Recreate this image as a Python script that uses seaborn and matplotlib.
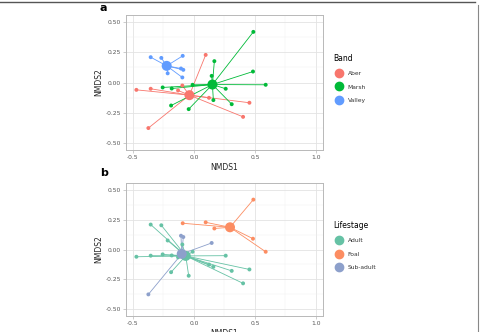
import numpy as np
import pandas as pd
import seaborn as sns
import matplotlib.pyplot as plt
from matplotlib.lines import Line2D

# sample scores
nmds1 = [-0.470, -0.353, -0.372, -0.129, -0.094, 0.097, 0.124, 0.455, 0.403,
         0.487, 0.484, 0.588, 0.168, 0.146, 0.261, 0.310, 0.160, -0.042, -0.186, -0.255, -0.181, -0.010,
         -0.353, -0.266, -0.091, -0.105, -0.086, -0.094, -0.214]
nmds2 = [-0.061, -0.052, -0.378, -0.066, -0.025, 0.229, -0.127, -0.168, -0.285,
         0.420, 0.091, -0.019, 0.177, 0.055, -0.052, -0.180, -0.146, -0.221, -0.191, -0.041, -0.050, -0.019,
         0.210, 0.204, 0.221, 0.116, 0.105, 0.042, 0.076]
band = ["Aber"] * 9 + ["Marsh"] * 13 + ["Valley"] * 7
lifestage = ["Adult", "Adult", "Sub-adult", "Adult", "Adult", "Foal", "Adult", "Adult", "Adult",
             "Foal", "Foal", "Foal", "Foal", "Sub-adult", "Adult", "Adult", "Adult", "Adult", "Adult", "Adult", "Adult", "Adult",
             "Adult", "Adult", "Foal", "Sub-adult", "Sub-adult", "Adult", "Adult"]

band_levels = ["Aber", "Marsh", "Valley"]
band_cx = [-0.036, 0.152, -0.222]
band_cy = [-0.105, -0.017, 0.138]
life_levels = ["Adult", "Foal", "Sub-adult"]
life_cx = [-0.066, 0.296, -0.099]
life_cy = [-0.054, 0.187, -0.037]

band_pal = dict(zip(band_levels, ["#F8766D", "#00BA38", "#619CFF"]))
life_pal = dict(zip(life_levels, ["#66C2A5", "#FC8D62", "#8DA0CB"]))

df = pd.DataFrame({"NMDS1": nmds1, "NMDS2": nmds2, "Band": band, "Lifestage": lifestage})

fig = plt.figure(figsize=(4.8, 3.32), dpi=100)
ax_a = fig.add_axes([126 / 480, 1 - 150 / 332, 197 / 480, 135 / 332])
ax_b = fig.add_axes([126 / 480, 1 - 316 / 332, 197 / 480, 133 / 332])


def spider(ax, group, levels, cx, cy, pal):
    cen = pd.DataFrame({group: levels, "NMDS1": cx, "NMDS2": cy})
    # segment table: each sample joined to its group centroid
    m = df.merge(cen, on=group, suffixes=("", "_c"))
    m["seg"] = range(len(m))
    seg = pd.concat([
        m[["seg", group, "NMDS1", "NMDS2"]],
        m[["seg", group, "NMDS1_c", "NMDS2_c"]].rename(columns={"NMDS1_c": "NMDS1", "NMDS2_c": "NMDS2"}),
    ])
    sns.lineplot(data=seg, x="NMDS1", y="NMDS2", hue=group, units="seg", estimator=None,
                 sort=False, palette=pal, hue_order=levels, lw=0.6, legend=False, ax=ax, zorder=2)
    sns.scatterplot(data=df, x="NMDS1", y="NMDS2", hue=group, palette=pal, hue_order=levels,
                    s=8, linewidth=0, legend=False, ax=ax, zorder=3)
    sns.scatterplot(data=cen, x="NMDS1", y="NMDS2", hue=group, palette=pal, hue_order=levels,
                    s=52, linewidth=0, legend=False, ax=ax, zorder=4)

    ax.set_xlim(-0.555, 1.057)
    ax.set_ylim(-0.56, 0.56)
    ax.set_xticks([-0.5, 0.0, 0.5, 1.0])
    ax.set_xticklabels(["-0.5", "0.0", "0.5", "1.0"])
    ax.set_yticks([-0.5, -0.25, 0.0, 0.25, 0.5])
    ax.set_yticklabels(["-0.50", "-0.25", "0.00", "0.25", "0.50"])
    ax.set_xticks([-0.25, 0.25, 0.75], minor=True)
    ax.set_yticks([-0.375, -0.125, 0.125, 0.375], minor=True)
    ax.grid(which="major", color="#e3e3e3", lw=0.6)
    ax.grid(which="minor", color="#efefef", lw=0.35)
    ax.set_axisbelow(True)
    for s in ax.spines.values():
        s.set_color("#b8b8b8")
        s.set_linewidth(0.7)
    ax.tick_params(which="major", length=2, width=0.5, color="#b8b8b8", labelsize=4.3,
                   labelcolor="#555555", pad=1.5)
    ax.tick_params(which="minor", length=0)
    ax.set_xlabel("NMDS1", fontsize=5.5, color="#222222", labelpad=2)
    ax.set_ylabel("NMDS2", fontsize=5.5, color="#222222", labelpad=2)

    handles = [Line2D([], [], marker="o", ls="", color=pal[l], markersize=6) for l in levels]
    leg = ax.legend(handles, levels, title=group, loc="center left", bbox_to_anchor=(1.04, 0.53),
                    frameon=False, fontsize=4.3, title_fontsize=5.5, handletextpad=0.4,
                    labelspacing=1.35, borderaxespad=0)
    leg._legend_box.align = "left"
    for t in leg.get_texts():
        t.set_color("#333333")


spider(ax_a, "Band", band_levels, band_cx, band_cy, band_pal)
spider(ax_b, "Lifestage", life_levels, life_cx, life_cy, life_pal)

fig.text(100 / 480, 1 - 8 / 332, "a", fontsize=8, fontweight="bold", va="center")
fig.text(100 / 480, 1 - 173 / 332, "b", fontsize=8, fontweight="bold", va="center")

# outer frame (top and right edges)
fig.add_artist(Line2D([0, 0.99], [0.995, 0.995], transform=fig.transFigure, color="#555555", lw=1))
fig.add_artist(Line2D([0.996, 0.996], [0, 0.985], transform=fig.transFigure, color="#888888", lw=0.8))

fig.savefig("out.png", dpi=100)
